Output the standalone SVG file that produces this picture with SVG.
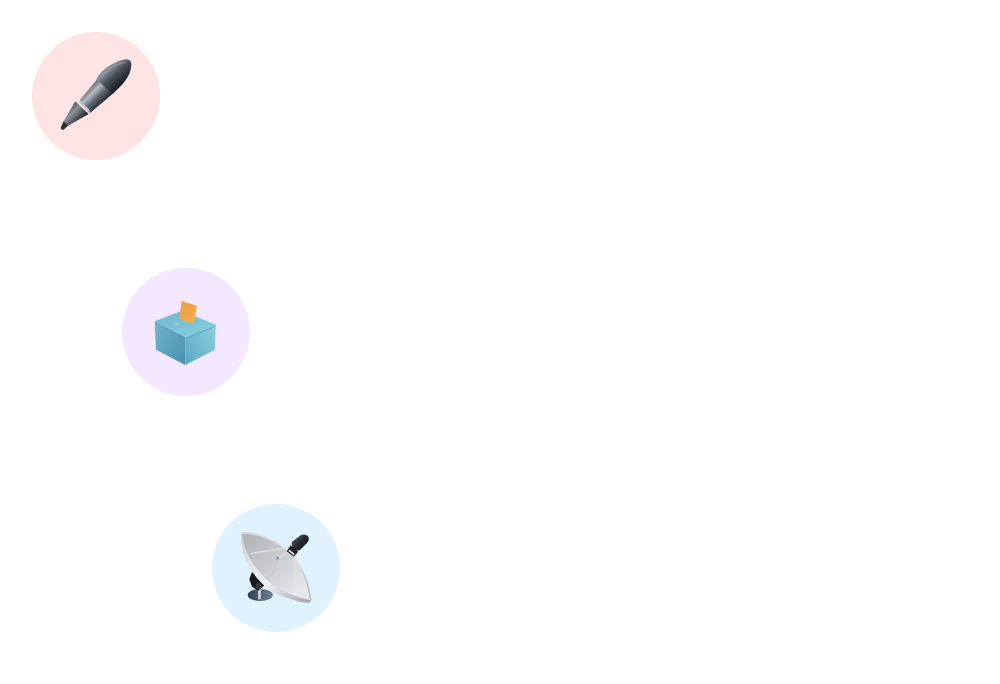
<svg xmlns="http://www.w3.org/2000/svg" width="1000" height="684" viewBox="0 0 1000 684">
<style>
.s{transform:scale(.33333)}
.rod{fill:none;stroke:#e2e5e8;stroke-linecap:round}
</style>
<defs>
<linearGradient id="capG" gradientUnits="userSpaceOnUse" x1="218" y1="92" x2="272" y2="150"><stop offset="0" stop-color="#7d858e"/><stop offset=".3" stop-color="#848d97"/><stop offset=".62" stop-color="#434b54"/><stop offset="1" stop-color="#1f2327"/></linearGradient>
<linearGradient id="barG" gradientUnits="userSpaceOnUse" x1="152" y1="180" x2="198" y2="226"><stop offset="0" stop-color="#4a5259"/><stop offset=".35" stop-color="#b4bac0"/><stop offset=".65" stop-color="#5e6770"/><stop offset="1" stop-color="#262a2f"/></linearGradient>
<linearGradient id="nibG" gradientUnits="userSpaceOnUse" x1="106" y1="226" x2="146" y2="266"><stop offset="0" stop-color="#444b52"/><stop offset=".4" stop-color="#8b939a"/><stop offset="1" stop-color="#22262a"/></linearGradient>
<linearGradient id="topG" x1="0" y1="0" x2="1" y2="1"><stop offset="0" stop-color="#6cb6cf"/><stop offset="1" stop-color="#8ad0e0"/></linearGradient>
<linearGradient id="leftG" x1="0" y1="0" x2="1" y2="1"><stop offset="0" stop-color="#6fb6d0"/><stop offset="1" stop-color="#4a90af"/></linearGradient>
<linearGradient id="rightG" x1="0" y1="1" x2="1" y2="0"><stop offset="0" stop-color="#5aa6c2"/><stop offset="1" stop-color="#8ed2e2"/></linearGradient>
<linearGradient id="paperG" x1="0" y1="0" x2="1" y2="1"><stop offset="0" stop-color="#ec9f43"/><stop offset="1" stop-color="#f2ae55"/></linearGradient>
<linearGradient id="dishG" gradientUnits="userSpaceOnUse" x1="110" y1="110" x2="270" y2="260"><stop offset="0" stop-color="#b4b6b9"/><stop offset=".55" stop-color="#cfd1d5"/><stop offset="1" stop-color="#e6e8eb"/></linearGradient>
<linearGradient id="backG" gradientUnits="userSpaceOnUse" x1="100" y1="110" x2="290" y2="290"><stop offset="0" stop-color="#d2d4d7"/><stop offset=".5" stop-color="#f0f1f2"/><stop offset="1" stop-color="#a8abaf"/></linearGradient>
<linearGradient id="baseG" x1="0" y1="0" x2="1" y2="0"><stop offset="0" stop-color="#2f3f52"/><stop offset="1" stop-color="#74859a"/></linearGradient>
<linearGradient id="feedG" x1="0" y1="0" x2="1" y2="1"><stop offset="0" stop-color="#60656b"/><stop offset=".5" stop-color="#25282c"/><stop offset="1" stop-color="#0f1114"/></linearGradient>
</defs>

<g id="node-pen">
<circle cx="96" cy="96" r="64" fill="#ffe4e6"/>
<g transform="translate(32 32)"><g class="s">
<path d="M96 265 L110 279 L95 293 Q87 295 86 288 Z" fill="#2b2f33"/>
<path d="M130 208 L170 246 L108 281 L95 268 Z" fill="url(#nibG)"/>
<path d="M196 142 L244 184 L174 243 L143 205 Z" fill="url(#barG)"/>
<path d="M145 205 L175 236 L170 241 L140 210 Z" fill="#bfc3c2"/>
<path d="M193 143 C203 116 246 88 280 82 Q299 80 298 100 C296 134 272 158 243 185 Z" fill="url(#capG)"/>
<path d="M208 133 C225 112 250 98 280 90" fill="none" stroke="#c9ced3" stroke-width="2.5" stroke-linecap="round" opacity=".5"/>
</g></g>
</g>

<g id="node-ballot">
<circle cx="186" cy="332" r="64" fill="#f3e8ff"/>
<g transform="translate(122 268)"><g class="s">
<path d="M98 160 L190 206 L190 291 L102 245 Z" fill="url(#leftG)"/>
<path d="M190 206 L281 168 L279 245 L190 291 Z" fill="url(#rightG)"/>
<path d="M98 160 L180 128 L281 170 L190 208 Z" fill="url(#topG)"/>
<path d="M100 165 L190 212 L280 175" fill="none" stroke="#4f9ab7" stroke-width="2"/>
<path d="M180 99 L225 113 L214 169 L170 153 Z" fill="url(#paperG)"/>
<ellipse cx="163" cy="168" rx="8" ry="4" fill="#a9c7cf"/>
</g></g>
</g>

<g id="node-dish">
<circle cx="276" cy="568" r="64" fill="#e0f2fe"/>
<g transform="translate(212 504)"><g class="s">
<ellipse cx="145" cy="273" rx="38" ry="18" fill="url(#baseG)"/>
<rect x="138" y="240" width="9" height="46" fill="#c6cbd0"/>
<path d="M120 204 L150 222 L156 245 L138 260 L120 248 L112 225 Z" fill="#17191c"/>
<circle cx="139" cy="246" r="9" fill="#383c41"/>
<path d="M87 94 C84 165 135 245 205 274 C245 291 275 298 290 296 C299 294 298 285 296 278 C292 235 270 180 238 146 C198 104 130 82 92 85 Q87 87 87 94 Z" fill="url(#backG)"/>
<path d="M90 90 C130 88 196 110 234 148 C266 184 288 240 294 288 C275 285 248 277 222 265 C160 238 100 170 90 90 Z" fill="url(#dishG)"/>
<path class="rod" d="M118 148 L232 130" stroke-width="3.5"/>
<path class="rod" d="M246 270 L252 152" stroke-width="4"/>
<path class="rod" d="M197 163 L232 142" stroke-width="3"/>
<path d="M197 163 L178 218" fill="none" stroke="#bcc0c4" stroke-width="2"/>
<circle cx="197" cy="163" r="4" fill="#8b9096"/>
<path d="M240 113 L266 94 Q280 87 289 98 Q293 108 285 117 L264 138 Q252 144 245 135 Q237 123 240 113 Z" fill="url(#feedG)"/>
<path d="M236 124 L258 143 L246 158 L224 142 Z" fill="#1a1c20"/>
<path d="M232 140 L246 151" stroke="#f2f3f4" stroke-width="5" stroke-linecap="round"/>
</g></g>
</g>

<g id="connectors"></g>
</svg>
